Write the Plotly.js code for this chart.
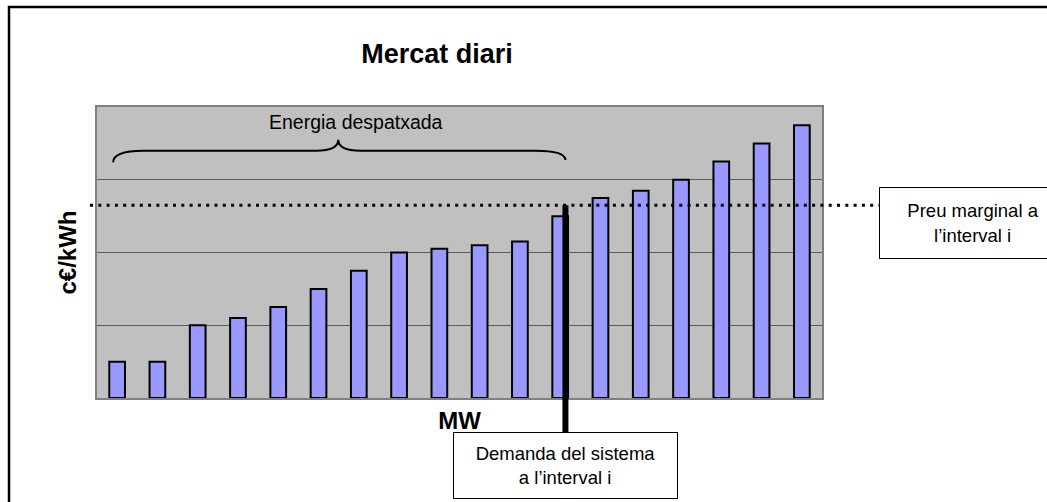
<!DOCTYPE html>
<html>
<head>
<meta charset="utf-8">
<script src="https://cdn.plot.ly/plotly-3.0.1.min.js"></script>
<style>html,body{margin:0;padding:0;background:#fff;}#chart{width:1047px;height:502px;}</style>
</head>
<body>
<div id="chart"></div>
<script>
// ---- data ----
const offers = [1, 2, 3, 4, 5, 6, 7, 8, 9, 10, 11, 12, 13, 14, 15, 16, 17, 18];
const prices = [0.5, 0.5, 1.0, 1.1, 1.25, 1.5, 1.75, 2.0, 2.05, 2.1, 2.15, 2.5, 2.75, 2.85, 3.0, 3.25, 3.5, 3.75];
const marginalPrice = 2.65;      // c€/kWh level of dotted line
const demandMW = 12.13;          // position of system demand (in offer units)
const titleText = 'Mercat diari';
const xTitle = 'MW';
const yTitle = 'c€/kWh';
const labelEnergy = 'Energia despatxada';
const labelPrice = 'Preu marginal a<br>l\u2019interval i';
const labelDemand = 'Demanda del sistema<br>a l\u2019interval i';

// ---- layout helpers ----
const W = 1047, H = 502;
const M = {l: 97, r: 225, t: 107, b: 104};
const plotW = W - M.l - M.r, plotH = H - M.t - M.b;
const xMin = 0.5, xMax = 18.5, yMin = 0, yMax = 4;
const toPaperX = v => (v - xMin) / (xMax - xMin);
const toPaperY = v => (v - yMin) / (yMax - yMin);
const pixX = p => (p - M.l) / plotW;
const pixY = p => (H - M.b - p) / plotH;

const FONT = 'Liberation Sans, Arial, Helvetica, sans-serif';

// brace geometry (data units)
const bx0 = 0.9, bx1 = demandMW, bMid = 6.49;
const bEndL = 3.24, bEndR = 3.27, bLine = 3.40, bPeak = 3.55;
const bracePath =
  `M ${bx0},${bEndL} Q ${bx0},${bLine} ${bx0 + 0.75},${bLine} ` +
  `L ${bMid - 0.55},${bLine} Q ${bMid},${bLine} ${bMid},${bPeak} ` +
  `Q ${bMid},${bLine} ${bMid + 0.55},${bLine} ` +
  `L ${bx1 - 0.75},${bLine} Q ${bx1},${bLine} ${bx1},${bEndR}`;

const trace = {
  type: 'bar',
  x: offers,
  y: prices,
  marker: {color: '#9999FF', line: {color: '#000000', width: 2}},
  hoverinfo: 'skip'
};

const layout = {
  width: W, height: H,
  margin: M,
  paper_bgcolor: '#FFFFFF',
  plot_bgcolor: '#C0C0C0',
  showlegend: false,
  bargap: 0.61,
  font: {family: FONT, color: '#000'},
  title: {
    text: titleText,
    font: {family: FONT, size: 27, color: '#000', weight: 'bold'},
    x: pixX(437), xref: 'paper', xanchor: 'center',
    y: 1 - 54 / H, yref: 'container', yanchor: 'middle'
  },
  xaxis: {
    range: [xMin, xMax],
    showticklabels: false, ticks: '',
    showgrid: false, zeroline: false,
    showline: true, mirror: true, linecolor: '#808080', linewidth: 2,
    fixedrange: true,
    title: {text: xTitle, standoff: 13, font: {family: FONT, size: 24, color: '#000', weight: 'bold'}}
  },
  yaxis: {
    range: [yMin, yMax],
    dtick: 1,
    showticklabels: false, ticks: '',
    showgrid: true, gridcolor: '#5A5A5A', gridwidth: 1,
    zeroline: false,
    showline: true, mirror: true, linecolor: '#808080', linewidth: 2,
    fixedrange: true,
    title: {text: yTitle, standoff: 12, font: {family: FONT, size: 24, color: '#000', weight: 'bold'}}
  },
  shapes: [
    // outer frame
    {type: 'rect', xref: 'paper', yref: 'paper',
     x0: pixX(9), x1: pixX(1300), y0: pixY(700), y1: pixY(7),
     line: {color: '#000', width: 2.5}, fillcolor: 'rgba(0,0,0,0)', layer: 'above'},
    // brace
    {type: 'path', xref: 'x', yref: 'y', path: bracePath,
     line: {color: '#000', width: 2}, layer: 'above'},
    // marginal price dotted line
    {type: 'line', xref: 'paper', yref: 'y',
     x0: pixX(90), x1: pixX(879), y0: marginalPrice, y1: marginalPrice,
     line: {color: '#000', width: 3, dash: '3px,5.3px'}, layer: 'above'},
    // demand line
    {type: 'line', xref: 'paper', yref: 'paper',
     x0: toPaperX(demandMW), x1: toPaperX(demandMW),
     y0: toPaperY(marginalPrice), y1: pixY(432),
     line: {color: '#000', width: 6}, layer: 'above'}
  ],
  annotations: [
    {text: labelEnergy, xref: 'x', yref: 'y', x: 6.94, y: 3.80,
     showarrow: false, font: {family: FONT, size: 19.5, color: '#000'},
     xanchor: 'center', yanchor: 'middle'},
    {text: labelPrice, xref: 'paper', yref: 'paper',
     x: pixX(879), y: pixY(187), xanchor: 'left', yanchor: 'top',
     width: 186, height: 70, align: 'center', valign: 'middle',
     bgcolor: '#FFFFFF', bordercolor: '#000', borderwidth: 1, borderpad: 0,
     showarrow: false, font: {family: FONT, size: 18.5, color: '#000'}},
    {text: labelDemand, xref: 'paper', yref: 'paper',
     x: toPaperX(demandMW), y: pixY(432), xanchor: 'center', yanchor: 'top',
     width: 223, height: 65, align: 'center', valign: 'middle',
     bgcolor: '#FFFFFF', bordercolor: '#000', borderwidth: 1, borderpad: 0,
     showarrow: false, font: {family: FONT, size: 18.5, color: '#000'}}
  ]
};

Plotly.newPlot('chart', [trace], layout, {staticPlot: true, displayModeBar: false});
</script>
</body>
</html>
